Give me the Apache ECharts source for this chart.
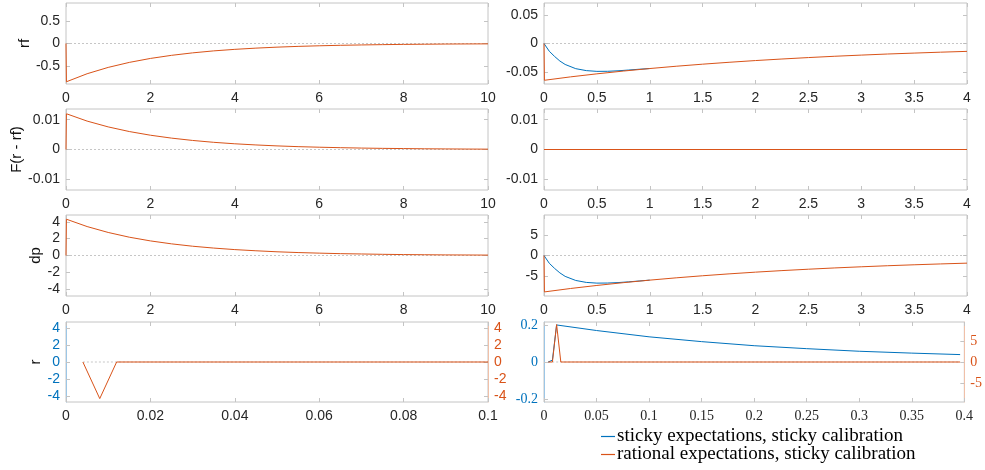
<!DOCTYPE html>
<html>
<head>
<meta charset="utf-8">
<script src="https://cdn.jsdelivr.net/npm/echarts@6/dist/echarts.min.js"></script>
<style>
  html, body { margin: 0; padding: 0; background: #fff; }
  #chart { width: 985px; height: 470px; }
</style>
</head>
<body>
<div id="chart"></div>
<script>
/* impulse responses: sticky vs rational expectations */

var BLUE = '#0072BD', ORANGE = '#D95319', TXT = '#262626', BOX = '#c4c4c4';
var nameSticky = 'sticky expectations, sticky calibration';
var nameRational = 'rational expectations, sticky calibration';

// left column, horizon 0..10 (both cases coincide, orange drawn on top)
var tLong = [0, 0.01, 0.5, 1, 1.5, 2, 2.5, 3, 3.5, 4, 4.5, 5, 5.5, 6, 6.5, 7, 7.5, 8, 8.5, 9, 9.5, 10];
var rfLong = [0, -0.85, -0.672, -0.531, -0.420, -0.332, -0.263, -0.208, -0.164, -0.130, -0.103, -0.081, -0.064, -0.051, -0.040, -0.032, -0.025, -0.020, -0.016, -0.012, -0.010, -0.008];
var fLong = [0, 0.0120, 0.00954, 0.00759, 0.00603, 0.0048, 0.00382, 0.00304, 0.00241, 0.00192, 0.00153, 0.00121, 0.00096, 0.00077, 0.00061, 0.00048, 0.00038, 0.00031, 0.00024, 0.00019, 0.00015, 0.00012];
var dpLong = [0, 4.30, 3.43, 2.73, 2.17, 1.73, 1.38, 1.10, 0.88, 0.70, 0.56, 0.44, 0.35, 0.28, 0.22, 0.18, 0.14, 0.11, 0.09, 0.07, 0.06, 0.05];

// right column, horizon 0..4
var tRational = [0, 0.004, 0.25, 0.5, 0.75, 1, 1.25, 1.5, 1.75, 2, 2.25, 2.5, 2.75, 3, 3.25, 3.5, 3.75, 4];
var rfRational = [0, -0.064, -0.0581, -0.0528, -0.0480, -0.0436, -0.0396, -0.0360, -0.0327, -0.0297, -0.0270, -0.0245, -0.0222, -0.0202, -0.0183, -0.0167, -0.0151, -0.0137];
var dpRational = [0, -8.9, -8.07, -7.32, -6.64, -6.02, -5.46, -4.95, -4.49, -4.07, -3.69, -3.35, -3.04, -2.76, -2.50, -2.27, -2.06, -1.87];
// sticky path until it merges with the rational one (~t=1)
var tSticky = [0, 0.05, 0.1, 0.15, 0.2, 0.3, 0.4, 0.5, 0.6, 0.7, 0.8, 0.9, 1];
var rfSticky = [0, -0.0135, -0.0225, -0.0305, -0.0365, -0.0438, -0.0472, -0.0485, -0.0484, -0.0475, -0.0462, -0.0448, -0.0436];
var dpSticky = [0, -1.90, -3.15, -4.25, -5.10, -6.10, -6.58, -6.75, -6.73, -6.62, -6.44, -6.23, -6.02];
var tFlat = [0, 4];
var fFlat = [0, 0];

// bottom row: r around the impact
var tImpactL = [0.004, 0.008, 0.012, 0.1];
var rRationalL = [0, -4.3, 0, 0];
var tImpactR = [0.004, 0.008, 0.012, 0.016, 0.396];
var rRationalR = [0, 0, 8.9, 0, 0];
var tStickyR = [0.004, 0.008, 0.012, 0.05, 0.1, 0.15, 0.2, 0.25, 0.3, 0.35, 0.396];
var rStickyR = [0, 0.01, 0.200, 0.170, 0.136, 0.110, 0.088, 0.072, 0.058, 0.048, 0.040];

// tick labels
var ticksX10 = [0, 2, 4, 6, 8, 10];
var ticksX4 = [0, 0.5, 1, 1.5, 2, 2.5, 3, 3.5, 4];
var ticksX01 = [0, 0.02, 0.04, 0.06, 0.08, 0.1];
var ticksX04 = [0, 0.05, 0.1, 0.15, 0.2, 0.25, 0.3, 0.35, 0.4];
var ticksRfL = [-0.5, 0, 0.5];
var ticksRfR = [-0.05, 0, 0.05];
var ticksF = [-0.01, 0, 0.01];
var ticks4 = [-4, -2, 0, 2, 4];
var ticks5 = [-5, 0, 5];
var ticks02 = [-0.2, 0, 0.2];

function zip(xs, ys) {
    return xs.map(function (x, k) { return [x, ys[k]]; });
}
function fmt(v) { return String(+(+v).toFixed(4)); }

var panels = [
    { box: [66, 3, 422, 81], x: [0, 10], xt: ticksX10, y: [-0.9, 0.9], yt: ticksRfL, name: 'rf', gap: 26,
      blue: null, orange: zip(tLong, rfLong), zero: [[0, 0], [10, 0]] },
    { box: [544, 3, 423, 81], x: [0, 4], xt: ticksX4, y: [-0.0705, 0.0705], yt: ticksRfR,
      blue: zip(tSticky, rfSticky), orange: zip(tRational, rfRational), zero: [[0, 0], [4, 0]] },
    { box: [66, 109, 422, 81], x: [0, 10], xt: ticksX10, y: [-0.0136, 0.0136], yt: ticksF, name: 'F(r - rf)', gap: 31,
      blue: null, orange: zip(tLong, fLong), zero: [[0, 0], [10, 0]] },
    { box: [544, 109, 423, 81], x: [0, 4], xt: ticksX4, y: [-0.0136, 0.0136], yt: ticksF,
      blue: null, orange: zip(tFlat, fFlat), zero: [[0, 0], [4, 0]] },
    { box: [66, 215, 422, 81], x: [0, 10], xt: ticksX10, y: [-4.8, 4.8], yt: ticks4, name: 'dp', gap: 15,
      blue: null, orange: zip(tLong, dpLong), zero: [[0, 0], [10, 0]] },
    { box: [544, 215, 423, 81], x: [0, 4], xt: ticksX4, y: [-9.9, 9.9], yt: ticks5,
      blue: zip(tSticky, dpSticky), orange: zip(tRational, dpRational), zero: [[0, 0], [4, 0]] },
    { box: [66, 322, 422, 80], x: [0, 0.1], xt: ticksX01, y: [-4.7, 4.7], yt: ticks4, name: 'r', gap: 15,
      dual: true, y2: [-4.7, 4.7], yt2: ticks4,
      blue: null, orange: zip(tImpactL, rRationalL), zero: [[0.004, 0], [0.1, 0]] },
    { box: [544, 322, 423, 80], x: [0, 0.4], xt: ticksX04, y: [-0.216, 0.216], yt: ticks02,
      dual: true, y2: [-9.5, 9.5], yt2: ticks5, serif: true,
      blue: zip(tStickyR, rStickyR), orange: zip(tImpactR, rRationalR), zero: [[0.004, 0], [0.396, 0]] }
];

var grid = [], xAxis = [], yAxis = [], series = [];

panels.forEach(function (p, i) {
    var font = p.serif ? 'Liberation Serif' : 'Liberation Sans';
    var fsize = 14;
    grid.push({ left: p.box[0], top: p.box[1], width: p.box[2], height: p.box[3],
                show: true, borderColor: BOX, borderWidth: 1, containLabel: false });

    var tick = { inside: true, length: 4, lineStyle: { color: BOX } };
    var noLine = { show: false, onZero: false };
    xAxis.push({
        type: 'value', gridIndex: i, position: 'bottom', min: p.x[0], max: p.x[1],
        axisLine: noLine, splitLine: { show: false },
        axisTick: Object.assign({ customValues: p.xt }, tick),
        axisLabel: { customValues: p.xt, formatter: fmt, color: TXT, fontSize: fsize, fontFamily: font, margin: 7 }
    });
    xAxis.push({
        type: 'value', gridIndex: i, position: 'top', min: p.x[0], max: p.x[1],
        axisLine: noLine, splitLine: { show: false }, axisLabel: { show: false },
        axisTick: Object.assign({ customValues: p.xt }, tick)
    });

    var leftColor = p.dual ? BLUE : TXT;
    yAxis.push({
        type: 'value', gridIndex: i, position: 'left', min: p.y[0], max: p.y[1],
        name: p.name || '', nameLocation: 'middle', nameGap: p.gap || 30,
        nameTextStyle: { color: '#111', fontSize: 15, fontFamily: 'Liberation Sans' },
        axisLine: { show: !!p.dual, onZero: false, lineStyle: { color: '#9cc6e6' } },
        splitLine: { show: false },
        axisTick: Object.assign({ customValues: p.yt }, tick),
        axisLabel: { customValues: p.yt, formatter: fmt, color: leftColor, fontSize: fsize, fontFamily: font, margin: 6 }
    });
    yAxis.push({
        type: 'value', gridIndex: i, position: 'right',
        min: p.dual ? p.y2[0] : p.y[0], max: p.dual ? p.y2[1] : p.y[1],
        axisLine: { show: !!p.dual, onZero: false, lineStyle: { color: '#f0c0a8' } },
        splitLine: { show: false },
        axisTick: Object.assign({ customValues: p.dual ? p.yt2 : p.yt }, tick),
        axisLabel: p.dual
            ? { customValues: p.yt2, formatter: fmt, color: ORANGE, fontSize: fsize, fontFamily: font, margin: 6 }
            : { show: false }
    });

    series.push({
        type: 'line', xAxisIndex: 2 * i, yAxisIndex: 2 * i, data: p.zero, silent: true,
        symbol: 'none', lineStyle: { color: '#b8b8b8', width: 0.8, type: [2, 2] }, z: 1
    });
    if (p.blue) {
        series.push({
            name: nameSticky, type: 'line', xAxisIndex: 2 * i, yAxisIndex: 2 * i, data: p.blue,
            symbol: 'none', lineStyle: { color: BLUE, width: 1 }, itemStyle: { color: BLUE }, z: 2
        });
    }
    series.push({
        name: nameRational, type: 'line', xAxisIndex: 2 * i, yAxisIndex: p.dual ? 2 * i + 1 : 2 * i, data: p.orange,
        symbol: 'none', lineStyle: { color: ORANGE, width: 1 }, itemStyle: { color: ORANGE }, z: 3
    });
});

var legendText = { fontFamily: 'Liberation Serif', fontSize: 19, color: '#000', padding: [0, 0, 0, -3] };
var chart = echarts.init(document.getElementById('chart'));
chart.setOption({
    animation: false,
    backgroundColor: '#fff',
    grid: grid,
    xAxis: xAxis,
    yAxis: yAxis,
    legend: [
        { left: 596, top: 422, itemWidth: 14, itemHeight: 1.2,
          data: [{ name: nameSticky, icon: 'rect' }], textStyle: legendText },
        { left: 596, top: 440, itemWidth: 14, itemHeight: 1.2,
          data: [{ name: nameRational, icon: 'rect' }], textStyle: legendText }
    ],
    series: series
});
</script>
</body>
</html>
